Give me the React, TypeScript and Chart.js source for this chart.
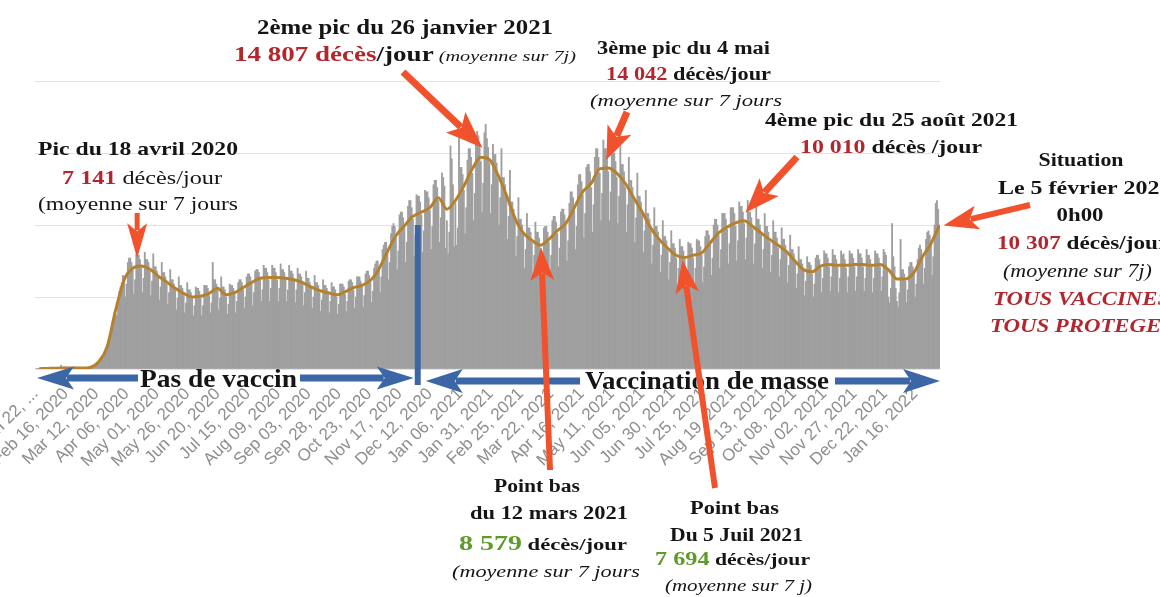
import { useEffect, useRef } from "react";
import { Chart, registerables } from "chart.js";

Chart.register(...registerables);

// ---------- DATA ----------
const TICK_STEP_DAYS = 25;
const TICK_LABELS = [
  "Jan 22, ...", "Feb 16, 2020", "Mar 12, 2020", "Apr 06, 2020", "May 01, 2020", "May 26, 2020",
  "Jun 20, 2020", "Jul 15, 2020", "Aug 09, 2020", "Sep 03, 2020", "Sep 28, 2020", "Oct 23, 2020",
  "Nov 17, 2020", "Dec 12, 2020", "Jan 06, 2021", "Jan 31, 2021", "Feb 25, 2021", "Mar 22, 2021",
  "Apr 16, 2021", "May 11, 2021", "Jun 05, 2021", "Jun 30, 2021", "Jul 25, 2021", "Aug 19, 2021",
  "Sep 13, 2021", "Oct 08, 2021", "Nov 02, 2021", "Nov 27, 2021", "Dec 22, 2021", "Jan 16, 2022",
];

// daily deaths, 22 Jan 2020 -> 5 Feb 2022 (one row per week, Wed..Tue)
const DAILY_DEATHS = [
  0, 8, 16, 15, 24, 26, 26,
  38, 43, 46, 45, 57, 64, 66,
  72, 70, 85, 87, 100, 108, 97,
  254, 13, 143, 142, 106, 98, 136,
  120, 117, 109, 97, 150, 71, 64,
  37, 58, 64, 55, 54, 68, 79,
  99, 98, 102, 100, 100, 205, 253,
  330, 351, 437, 407, 611, 743, 870,
  900, 1100, 1300, 1500, 1600, 1900, 2400,
  3000, 3400, 3900, 3800, 3700, 4700, 5400,
  5700, 6000, 6500, 6300, 5000, 5900, 7400,
  7700, 7700, 7400, 6900, 5200, 6200, 8000,
  7900, 7900, 7600, 7000, 5300, 6300, 8100,
  7600, 7600, 7400, 6800, 5100, 6100, 8000,
  7100, 7100, 6800, 6300, 4800, 5700, 7400,
  6700, 6700, 6400, 5900, 4500, 5300, 6900,
  6200, 6200, 5900, 5500, 4100, 4900, 6400,
  5800, 5800, 5600, 5100, 3900, 4600, 6000,
  5500, 5500, 5300, 4900, 3700, 4400, 5700,
  5600, 5600, 5400, 4900, 3700, 4400, 5800,
  5800, 5800, 5600, 5100, 3900, 4600, 7400,
  6200, 6200, 5900, 5500, 4100, 4900, 6400,
  5700, 5700, 5500, 5000, 3800, 4500, 5900,
  5800, 5800, 5600, 5200, 3900, 4700, 6000,
  6200, 6200, 6000, 5500, 4200, 5000, 6400,
  6600, 6600, 6400, 5900, 4400, 5300, 6800,
  6900, 6900, 6700, 6200, 4700, 5500, 7200,
  7000, 7000, 6700, 6200, 4700, 5600, 7200,
  7000, 7000, 6700, 6200, 4700, 5600, 7300,
  6900, 6900, 6700, 6200, 4700, 5500, 7200,
  6800, 6800, 6600, 6100, 4600, 5500, 7000,
  6600, 6600, 6400, 5900, 4400, 5300, 6800,
  6300, 6300, 6000, 5600, 4200, 5000, 6500,
  6000, 6000, 5800, 5300, 4000, 4800, 6200,
  5800, 5800, 5600, 5200, 3900, 4700, 6000,
  5700, 5700, 5500, 5000, 3800, 4500, 5900,
  5900, 5900, 5700, 5200, 4000, 4700, 6100,
  6200, 6200, 6000, 5500, 4200, 5000, 6400,
  6400, 6400, 6100, 5700, 4300, 5100, 6600,
  6800, 6800, 6500, 6000, 4600, 5400, 7000,
  7300, 7500, 7500, 7000, 5300, 6400, 8300,
  8600, 8800, 8800, 8100, 6200, 7400, 9400,
  9900, 10100, 9900, 9100, 6900, 8200, 10700,
  10900, 10900, 10500, 9800, 7400, 8800, 11300,
  11700, 11700, 11200, 10400, 7800, 9300, 12100,
  12000, 12000, 11600, 10700, 8100, 9600, 12400,
  12300, 12300, 11900, 11000, 8300, 9900, 12800,
  13100, 13100, 12600, 11700, 8800, 10500, 13600,
  13300, 12700, 8400, 10300, 8000, 9500, 15500,
  14600, 12800, 8500, 11500, 8600, 9800, 16200,
  14000, 14000, 13500, 12400, 9400, 11200, 14500,
  15300, 15300, 14700, 13600, 10300, 12200, 15900,
  16500, 16200, 15600, 14400, 10900, 12900, 16400,
  17000, 16000, 15400, 14300, 10800, 12800, 15600,
  14900, 14900, 14300, 13200, 10000, 11900, 15300,
  13300, 13300, 12800, 11900, 9000, 10600, 13800,
  11600, 11600, 11100, 10300, 7800, 9200, 11900,
  10400, 10400, 10000, 9300, 7000, 8300, 10800,
  9800, 9800, 9500, 8800, 6600, 7900, 10200,
  9500, 9500, 9100, 8400, 6400, 7600, 9800,
  9900, 9900, 9500, 8800, 6700, 7900, 10300,
  10600, 10600, 10200, 9400, 7100, 8400, 10900,
  11100, 11100, 10700, 9900, 7500, 8900, 11500,
  12300, 12300, 11900, 11000, 8300, 9900, 12800,
  13500, 13500, 13000, 12100, 9100, 10800, 14000,
  14200, 14200, 13700, 12600, 9500, 11400, 14700,
  15300, 15300, 14700, 13600, 10300, 12200, 15900,
  15300, 15300, 14800, 13700, 10300, 12300, 15900,
  15000, 15000, 14400, 13300, 10100, 12000, 15500,
  14200, 14200, 13700, 12600, 9500, 11400, 14700,
  13100, 13100, 12600, 11700, 8800, 10500, 13600,
  12000, 12000, 11600, 10700, 8100, 9600, 12400,
  10800, 10800, 10400, 9600, 7300, 8600, 11200,
  9900, 9900, 9500, 8800, 6700, 7900, 10300,
  9200, 9200, 8900, 8200, 6200, 7400, 9600,
  8700, 8700, 8400, 7700, 5800, 7000, 9000,
  8500, 8500, 8200, 7600, 5700, 6800, 8800,
  8700, 8700, 8400, 7700, 5800, 7000, 9000,
  8900, 8900, 8500, 7900, 6000, 7100, 9200,
  9600, 9600, 9300, 8600, 6500, 7700, 10000,
  10400, 10400, 10000, 9300, 7000, 8300, 10800,
  10800, 10800, 10400, 9700, 7300, 8700, 11200,
  11200, 11200, 10800, 9900, 7500, 8900, 11600,
  11300, 11300, 10900, 10100, 7600, 9100, 11700,
  10900, 10900, 10500, 9700, 7300, 8700, 11300,
  10400, 10400, 10000, 9300, 7000, 8300, 10800,
  9900, 9900, 9500, 8800, 6700, 7900, 10300,
  9500, 9500, 9100, 8400, 6400, 7600, 9800,
  9000, 9000, 8600, 8000, 6000, 7200, 9300,
  8300, 8300, 8000, 7400, 5600, 6600, 8500,
  7600, 7600, 7300, 6800, 5100, 6100, 7800,
  7400, 7400, 7200, 6600, 5000, 5900, 7700,
  7900, 7900, 7600, 7000, 5300, 6300, 8200,
  8000, 8000, 7700, 7100, 5400, 6400, 8300,
  7900, 7900, 7600, 7100, 5300, 6300, 8200,
  7900, 8000, 7600, 7000, 5300, 6400, 8200,
  8000, 8000, 7700, 7100, 5400, 6400, 8300,
  8000, 8000, 7700, 7100, 5400, 6300, 8300,
  7900, 7900, 7600, 7100, 5300, 6300, 8200,
  8000, 8000, 7700, 7100, 5400, 6400, 8300,
  8100, 7900, 7000, 5000, 4600, 5600, 10100,
  7800, 7100, 5600, 4700, 4300, 5300, 9000,
  6900, 6900, 6600, 6100, 4600, 5500, 7100,
  7400, 7400, 7100, 6600, 5000, 5900, 7600,
  8400, 8600, 8300, 7700, 5900, 7000, 9000,
  9500, 9600, 9300, 8600, 6500, 7800, 10000,
  11500, 11700, 11100, 10000,
];

// 7-day moving average, sampled every 7 days starting at day 3
const MA_FIRST_DAY = 3;
const MA_STEP_DAYS = 7;
const MA_7DAY = [
  20, 40, 60, 70, 70, 70, 110, 500, 1550, 4100,
  6200, 7000, 7150, 6950, 6450, 6050, 5600, 5250, 5000, 5050,
  5250, 5600, 5150, 5300, 5650, 6000, 6300, 6350, 6350, 6300,
  6200, 6000, 5700, 5450, 5300, 5150, 5350, 5650, 5800, 6150,
  6950, 8150, 9250, 9950, 10600, 10900, 11200, 11900, 11100, 11700,
  12700, 13900, 14700, 14550, 13500, 12100, 10500, 9450, 8950, 8600,
  9000, 9600, 10100, 11200, 12300, 12900, 13900, 13950, 13600, 12900,
  11900, 10900, 9800, 9000, 8400, 7900, 7750, 7900, 8050, 8750,
  9450, 9850, 10150, 10300, 9900, 9450, 9000, 8600, 8150, 7500,
  6900, 6750, 7150, 7250, 7200, 7200, 7250, 7250, 7200, 7250,
  6900, 6250, 6250, 6700, 7800, 8700, 10000,
];

const VACCINE_START_DAY = 315;

const KEY_POINTS = {
  peak1: { day: 87, value: 7141 },
  peak2: { day: 370, value: 14807 },
  peak3: { day: 468, value: 14042 },
  peak4: { day: 581, value: 10010 },
  low1: { day: 415, value: 8579 },
  low2: { day: 530, value: 7694 },
  last: { day: 745, value: 10307 },
};

// ---------- DRAWING HELPERS ----------
const SERIF = '"Liberation Serif", "Times New Roman", serif';
const font = (style: string, size: number) => `${style} ${size}px ${SERIF}`;
const BLACK = "#151515";
const RED = "#b3262d";
const GREEN = "#5f9b2b";
const ORANGE = "#f2522b";
const BLUE = "#3c67a6";

type Run = { text: string; font: string; color: string };

function drawLine(ctx: CanvasRenderingContext2D, runs: Run[], x: number, y: number, opt: { width?: number; scale?: number; center?: boolean }) {
  ctx.save();
  let total = 0;
  const widths = runs.map((r) => {
    ctx.font = r.font;
    const w = ctx.measureText(r.text).width;
    total += w;
    return w;
  });
  const s = opt.width ? opt.width / total : opt.scale ?? 1;
  const left = opt.center ? x - (total * s) / 2 : x;
  ctx.translate(left, y);
  ctx.scale(s, 1);
  ctx.textAlign = "left";
  ctx.textBaseline = "alphabetic";
  let cx = 0;
  runs.forEach((r, i) => {
    ctx.font = r.font;
    ctx.fillStyle = r.color;
    ctx.fillText(r.text, cx, 0);
    cx += widths[i];
  });
  ctx.restore();
}

function drawArrow(ctx: CanvasRenderingContext2D, x1: number, y1: number, x2: number, y2: number, color: string, shaft: number, headLen: number, headW: number) {
  const ang = Math.atan2(y2 - y1, x2 - x1);
  const c = Math.cos(ang), s = Math.sin(ang);
  const bx = x2 - c * headLen, by = y2 - s * headLen;
  ctx.save();
  ctx.strokeStyle = color;
  ctx.fillStyle = color;
  ctx.lineWidth = shaft;
  ctx.lineCap = "butt";
  ctx.beginPath();
  ctx.moveTo(x1, y1);
  ctx.lineTo(bx + c * 4, by + s * 4);
  ctx.stroke();
  ctx.beginPath();
  ctx.moveTo(x2, y2);
  ctx.lineTo(bx + (s * headW) / 2 - c * 3, by - (c * headW) / 2 - s * 3);
  ctx.lineTo(bx + c * 5, by + s * 5);
  ctx.lineTo(bx - (s * headW) / 2 - c * 3, by + (c * headW) / 2 - s * 3);
  ctx.closePath();
  ctx.fill();
  ctx.restore();
}

const annotationPlugin = {
  id: "annotations",
  afterDraw(chart: any) {
    const ctx: CanvasRenderingContext2D = chart.ctx;
    const xs = chart.scales.x, ys = chart.scales.y;
    const area = chart.chartArea;
    const pt = (k: keyof typeof KEY_POINTS) => ({
      x: xs.getPixelForValue(KEY_POINTS[k].day),
      y: ys.getPixelForValue(KEY_POINTS[k].value),
    });

    // blue vaccination arrows
    const vx = xs.getPixelForValue(VACCINE_START_DAY);
    ctx.save();
    ctx.strokeStyle = BLUE;
    ctx.lineWidth = 6;
    ctx.beginPath();
    ctx.moveTo(vx, ys.getPixelForValue(10000));
    ctx.lineTo(vx, area.bottom + 16);
    ctx.stroke();
    ctx.restore();
    drawArrow(ctx, 138, 378, area.left + 2, 378, BLUE, 7, 34, 23);
    drawArrow(ctx, 300, 378, vx - 4, 378, BLUE, 7, 34, 23);
    drawArrow(ctx, 580, 381, vx + 8, 381, BLUE, 7, 34, 24);
    drawArrow(ctx, 835, 381, area.right, 381, BLUE, 7, 34, 24);

    const B = (t: string, size: number, color = BLACK): Run => ({ text: t, font: font("bold", size), color });
    const I = (t: string, size: number, color = BLACK): Run => ({ text: t, font: font("italic", size), color });
    const R = (t: string, size: number, color = BLACK): Run => ({ text: t, font: font("normal", size), color });
    const BI = (t: string, size: number, color = BLACK): Run => ({ text: t, font: font("italic bold", size), color });

    drawLine(ctx, [B("Pas de vaccin", 25)], 140, 387, { width: 157 });
    drawLine(ctx, [B("Vaccination de masse", 25)], 585, 389, { width: 244 });

    // top texts
    drawLine(ctx, [B("2ème pic du 26 janvier 2021", 20)], 257, 34, { width: 296 });
    drawLine(ctx, [B("14 807 décès", 20, RED), B("/jour", 20), I(" (moyenne sur 7j)", 15)], 234, 61, { width: 342 });
    drawLine(ctx, [B("3ème pic du 4 mai", 18)], 597, 54, { width: 173 });
    drawLine(ctx, [B("14 042", 18, RED), B(" décès/jour", 18)], 606, 80, { width: 165 });
    drawLine(ctx, [I("(moyenne sur 7 jours", 17)], 590, 106, { width: 192 });
    drawLine(ctx, [B("Pic du 18 avril 2020", 19)], 38, 155, { width: 200 });
    drawLine(ctx, [B("7 141", 19, RED), R(" décès/jour", 19)], 62, 184, { width: 160 });
    drawLine(ctx, [R("(moyenne sur 7 jours", 19)], 38, 210, { width: 200 });
    drawLine(ctx, [B("4ème pic du 25 août 2021", 19)], 765, 126, { width: 253 });
    drawLine(ctx, [B("10 010", 19, RED), B(" décès /jour", 19)], 800, 153, { width: 182 });
    drawLine(ctx, [B("Situation", 19)], 1081, 166, { scale: 1.15, center: true });
    drawLine(ctx, [B("Le 5 février 2022", 19)], 998, 194, { scale: 1.26 });
    drawLine(ctx, [B("0h00", 19)], 1080, 221, { scale: 1.2, center: true });
    drawLine(ctx, [B("10 307", 19, RED), B(" décès/jour", 19)], 997, 249, { scale: 1.22 });
    drawLine(ctx, [I("(moyenne sur 7j)", 18)], 1003, 277, { scale: 1.22 });
    drawLine(ctx, [BI("TOUS VACCINES", 19, RED)], 993, 305, { scale: 1.2 });
    drawLine(ctx, [BI("TOUS PROTEGES", 19, RED)], 990, 332, { scale: 1.2 });

    // bottom texts
    drawLine(ctx, [B("Point bas", 18)], 494, 492, { width: 86 });
    drawLine(ctx, [B("du 12 mars 2021", 18)], 470, 519, { width: 158 });
    drawLine(ctx, [B("8 579", 21, GREEN), B(" décès/jour", 17)], 459, 550, { width: 168 });
    drawLine(ctx, [I("(moyenne sur 7 jours", 16)], 452, 577, { width: 188 });
    drawLine(ctx, [B("Point bas", 18)], 690, 514, { width: 89 });
    drawLine(ctx, [B("Du 5 Juil 2021", 18)], 670, 541, { width: 133 });
    drawLine(ctx, [B("7 694", 19, GREEN), B(" décès/jour", 17)], 655, 565, { width: 155 });
    drawLine(ctx, [I("(moyenne sur 7 j)", 16)], 665, 591, { width: 147 });

    // orange arrows
    const p1 = pt("peak1"), p2 = pt("peak2"), p3 = pt("peak3"), p4 = pt("peak4");
    const l1 = pt("low1"), l2 = pt("low2"), ls = pt("last");
    drawArrow(ctx, 403, 72, p2.x - 2, p2.y - 8, ORANGE, 7, 34, 28);
    drawArrow(ctx, 627, 112, p3.x + 3, p3.y - 7, ORANGE, 7, 30, 26);
    drawArrow(ctx, p1.x - 4, 213, p1.x - 4, p1.y - 8, ORANGE, 5, 32, 20);
    drawArrow(ctx, 797, 157, p4.x + 5, p4.y - 12, ORANGE, 7, 32, 26);
    drawArrow(ctx, 1030, 205, ls.x + 4, ls.y + 5, ORANGE, 6, 32, 24);
    drawArrow(ctx, 550, 470, l1.x + 2, l1.y + 2, ORANGE, 6, 30, 24);
    drawArrow(ctx, 715, 488, l2.x + 4, l2.y + 2, ORANGE, 6, 30, 24);
  },
};

export default function App() {
  const ref = useRef<HTMLCanvasElement>(null);
  useEffect(() => {
    if (!ref.current) return;
    const bars = DAILY_DEATHS.map((v, i) => ({ x: i, y: v }));
    const ma = MA_7DAY.map((v, k) => ({ x: MA_FIRST_DAY + k * MA_STEP_DAYS, y: v }));
    const chart = new Chart(ref.current, {
      type: "bar",
      data: {
        datasets: [
          {
            type: "line",
            label: "Moyenne 7 jours",
            data: ma,
            borderColor: "#b5812f",
            borderWidth: 3,
            pointRadius: 0,
            cubicInterpolationMode: "monotone",
            order: 0,
          } as any,
          {
            type: "bar",
            label: "Décès/jour",
            data: bars,
            backgroundColor: "#9f9f9f",
            borderWidth: 0,
            barPercentage: 1,
            categoryPercentage: 1,
            order: 1,
          } as any,
        ],
      },
      options: {
        animation: false,
        responsive: true,
        maintainAspectRatio: false,
        events: [],
        layout: { padding: { left: 35, right: 220, top: 81, bottom: 0 } },
        plugins: { legend: { display: false }, tooltip: { enabled: false } },
        scales: {
          x: {
            type: "linear",
            min: -0.5,
            max: DAILY_DEATHS.length - 0.5,
            offset: false,
            grid: { display: false, drawTicks: false },
            border: { display: false },
            afterBuildTicks: (scale: any) => {
              scale.ticks = TICK_LABELS.map((_, i) => ({ value: i * TICK_STEP_DAYS }));
            },
            afterFit: (scale: any) => {
              scale.height = 228;
              scale.paddingLeft = 0;
              scale.paddingRight = 0;
            },
            ticks: {
              autoSkip: false,
              minRotation: 45,
              maxRotation: 45,
              padding: 15,
              color: "#8e8e8e",
              font: { family: '"Liberation Sans", Arial, sans-serif', size: 17 },
              callback: (_v: any, i: number) => TICK_LABELS[i],
            },
          } as any,
          y: {
            min: 0,
            max: 20000,
            ticks: { display: false, stepSize: 5000 },
            grid: { color: "#e2e2e2", drawTicks: false },
            border: { display: false },
            afterFit: (scale: any) => {
              scale.width = 0;
            },
          } as any,
        },
      },
      plugins: [annotationPlugin],
    });
    return () => chart.destroy();
  }, []);

  return (
    <div style={{ position: "fixed", left: 0, top: 0, width: 1160, height: 597, background: "#fff" }}>
      <canvas ref={ref} />
    </div>
  );
}
